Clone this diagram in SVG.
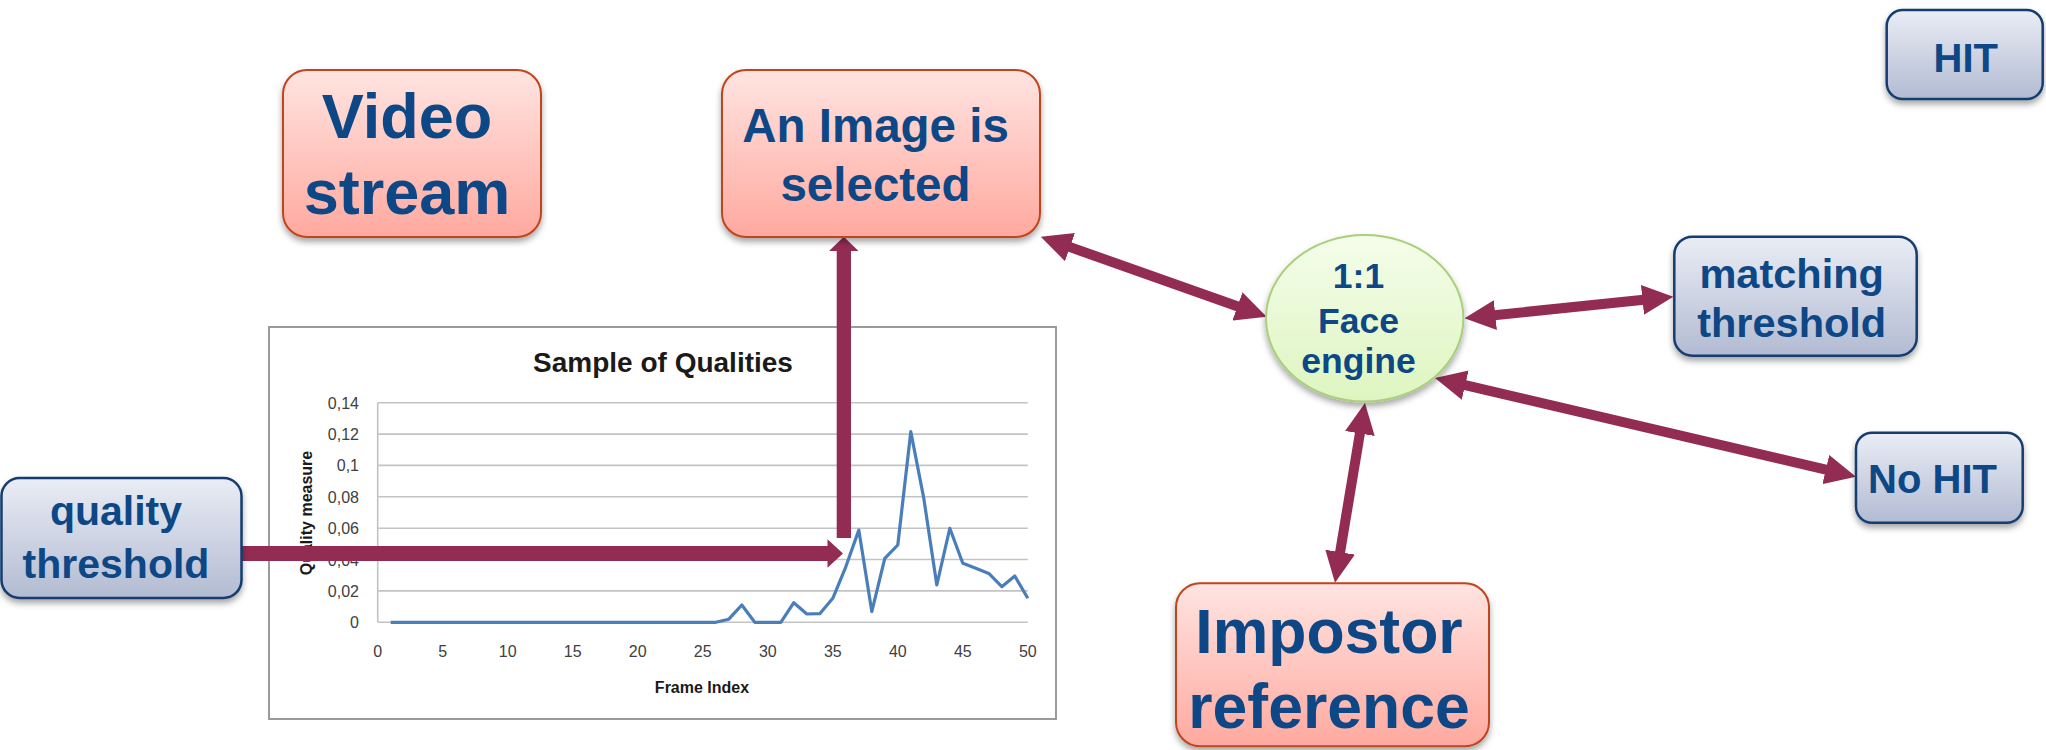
<svg xmlns="http://www.w3.org/2000/svg" width="2046" height="750" viewBox="0 0 2046 750">
<style>
.nt{font-family:"Liberation Sans",Arial,sans-serif;font-weight:bold;fill:#0d4785;text-anchor:middle}
.pink{fill:url(#gPink);stroke:#c0441c;stroke-width:2;filter:url(#sh)}
.blue{fill:url(#gBlue);stroke:#163d70;stroke-width:2.5;filter:url(#sh)}
.grid{stroke:#c3c3c3;stroke-width:1.6}
.tk{font-family:"Liberation Sans",Arial,sans-serif;font-size:16px;fill:#404040}
.tky{text-anchor:end}
.tkx{text-anchor:middle}
.lbl{font-family:"Liberation Sans",Arial,sans-serif;font-weight:bold;fill:#1a1a1a;text-anchor:middle}
.con{stroke:#932c53;stroke-width:10;fill:none;marker-start:url(#ah);marker-end:url(#ah)}
.fat{fill:#932c53}
</style>
<defs>
<linearGradient id="gPink" x1="0" y1="0" x2="0" y2="1"><stop offset="0" stop-color="#ffe4e1"/><stop offset="1" stop-color="#ffa99f"/></linearGradient>
<linearGradient id="gBlue" x1="0" y1="0" x2="0" y2="1"><stop offset="0" stop-color="#eaedf5"/><stop offset="1" stop-color="#b2bbd2"/></linearGradient>
<linearGradient id="gGreen" x1="0" y1="0" x2="0" y2="1"><stop offset="0" stop-color="#f4fdea"/><stop offset="1" stop-color="#def5c0"/></linearGradient>
<filter id="sh" x="-20%" y="-20%" width="140%" height="150%"><feDropShadow dx="0" dy="4" stdDeviation="3" flood-color="#000" flood-opacity="0.35"/></filter>
<marker id="ah" markerUnits="userSpaceOnUse" markerWidth="31" markerHeight="30" viewBox="0 0 31 30" refX="11" refY="15" orient="auto-start-reverse"><path d="M0,0 L31,15 L0,30 z" fill="#932c53"/></marker>
</defs>
<rect width="2046" height="750" fill="#fff"/>

<g id="chart">
<rect x="269" y="327" width="787" height="392" fill="#fff" stroke="#9a9a9a" stroke-width="2"/>
<text class="lbl" x="663" y="372" font-size="28">Sample of Qualities</text>
<g>
<line class="grid" x1="377.7" y1="402.7" x2="1027.8" y2="402.7"/>
<line class="grid" x1="377.7" y1="434.1" x2="1027.8" y2="434.1"/>
<line class="grid" x1="377.7" y1="465.4" x2="1027.8" y2="465.4"/>
<line class="grid" x1="377.7" y1="496.8" x2="1027.8" y2="496.8"/>
<line class="grid" x1="377.7" y1="528.2" x2="1027.8" y2="528.2"/>
<line class="grid" x1="377.7" y1="559.5" x2="1027.8" y2="559.5"/>
<line class="grid" x1="377.7" y1="590.9" x2="1027.8" y2="590.9"/>
<line class="grid" x1="377.7" y1="622.3" x2="1027.8" y2="622.3"/>
<line class="grid" x1="377.7" y1="402.7" x2="377.7" y2="622.3"/>
</g>
<g class="tk tky">
<text x="359" y="408.7">0,14</text>
<text x="359" y="440.1">0,12</text>
<text x="359" y="471.4">0,1</text>
<text x="359" y="502.8">0,08</text>
<text x="359" y="534.2">0,06</text>
<text x="359" y="565.5">0,04</text>
<text x="359" y="596.9">0,02</text>
<text x="359" y="628.3">0</text>
</g>
<g class="tk tkx">
<text x="377.7" y="657">0</text>
<text x="442.7" y="657">5</text>
<text x="507.7" y="657">10</text>
<text x="572.7" y="657">15</text>
<text x="637.7" y="657">20</text>
<text x="702.7" y="657">25</text>
<text x="767.8" y="657">30</text>
<text x="832.8" y="657">35</text>
<text x="897.8" y="657">40</text>
<text x="962.8" y="657">45</text>
<text x="1027.8" y="657">50</text>
</g>
<text class="lbl" x="702" y="693" font-size="16">Frame Index</text>
<text class="lbl" font-size="16" transform="translate(312,513) rotate(-90)">Quality measure</text>
<polyline fill="none" stroke="#4a7ebb" stroke-width="3.2" stroke-linejoin="round" points="390.7,622.3 715.8,622.3 728.8,619.2 741.8,605.0 754.8,622.3 780.8,622.3 793.8,602.7 806.8,614.0 819.8,613.7 832.8,598.3 845.8,566.8 858.8,530.1 871.8,611.6 884.8,558.3 897.8,545.0 910.8,431.7 923.8,498.4 936.8,585.0 949.8,528.3 962.8,563.3 975.8,568.3 988.8,573.4 1001.8,586.7 1014.8,576.0 1027.8,598.3"/>
</g>

<g id="connectors">
<polygon class="fat" points="240,546 827.5,546 827.5,539.3 843,553.5 827.5,567.7 827.5,561 240,561"/>
<polygon class="fat" points="836.7,538 836.7,251 829,251 843.8,236.7 858.5,251 851,251 851,538"/>
<line class="con" x1="1059.6" y1="243.4" x2="1247.8" y2="310.0"/>
<line class="con" x1="1484.4" y1="316.2" x2="1653.4" y2="298.8"/>
<line class="con" x1="1454.5" y1="382.6" x2="1836.5" y2="472.1"/>
<line class="con" x1="1361.7" y1="422.7" x2="1338.3" y2="563.0"/>
</g>

<g id="video-stream">
<rect class="pink" x="283" y="70" width="258" height="167" rx="24"/>
<text class="nt" x="407" y="138" font-size="63">Video</text>
<text class="nt" x="407" y="214.3" font-size="63">stream</text>
</g>

<g id="image-selected">
<rect class="pink" x="722" y="70" width="318" height="167" rx="24"/>
<text class="nt" x="875.5" y="141.7" font-size="47.5">An Image is</text>
<text class="nt" x="875.5" y="200.7" font-size="47.5">selected</text>
</g>

<g id="face-engine">
<ellipse cx="1364.7" cy="318.3" rx="98.7" ry="83.3" fill="url(#gGreen)" stroke="#a9cf7b" stroke-width="2" filter="url(#sh)"/>
<text class="nt" x="1358.5" y="288.3" font-size="35.5">1:1</text>
<text class="nt" x="1358.5" y="333" font-size="35.5">Face</text>
<text class="nt" x="1358.5" y="373.3" font-size="35.5">engine</text>
</g>

<g id="matching-threshold">
<rect class="blue" x="1674.3" y="236.7" width="242.4" height="119" rx="18"/>
<text class="nt" x="1791.7" y="288.3" font-size="41.5">matching</text>
<text class="nt" x="1791.7" y="336.7" font-size="41.5">threshold</text>
</g>

<g id="no-hit">
<rect class="blue" x="1856" y="432.7" width="166.7" height="90" rx="16"/>
<text class="nt" x="1932.5" y="493.3" font-size="40">No HIT</text>
</g>

<g id="hit">
<rect class="blue" x="1886.7" y="10" width="156" height="89" rx="16"/>
<text class="nt" x="1965.8" y="71.7" font-size="40">HIT</text>
</g>

<g id="quality-threshold">
<rect class="blue" x="1.5" y="478" width="240" height="120" rx="18"/>
<text class="nt" x="116" y="525" font-size="41">quality</text>
<text class="nt" x="116" y="578.3" font-size="41">threshold</text>
</g>

<g id="impostor-reference">
<rect class="pink" x="1176" y="583.3" width="313" height="163" rx="24"/>
<text class="nt" x="1329" y="653.3" font-size="62.5">Impostor</text>
<text class="nt" x="1329" y="728.3" font-size="62.5">reference</text>
</g>
</svg>
